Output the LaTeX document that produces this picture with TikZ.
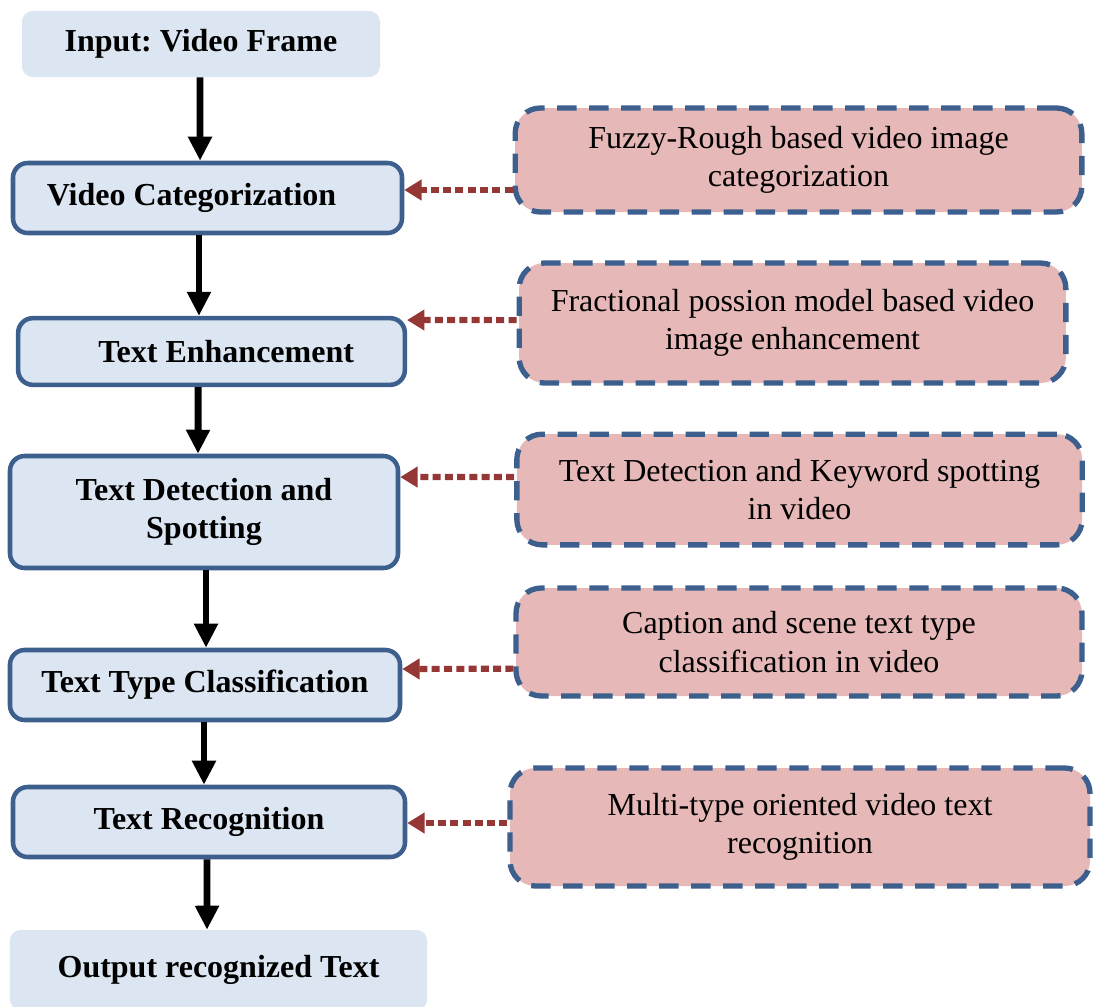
\documentclass[tikz,border=0pt]{standalone}
\usepackage{fontspec}
\setmainfont{Liberation Serif}
\usetikzlibrary{arrows.meta}
\definecolor{lfill}{HTML}{DCE6F2}
\definecolor{lborder}{HTML}{3D5F8E}
\definecolor{rfill}{HTML}{E6B9B8}
\definecolor{darr}{HTML}{953735}
\tikzset{
  lbox/.style={fill=lfill, draw=lborder, line width=3.4pt, rounded corners=11pt,
    align=center, inner sep=0pt, font=\fontsize{24}{29}\selectfont\bfseries\frenchspacing},
  lplain/.style={fill=lfill, draw=none, rounded corners=8pt,
    align=center, inner sep=0pt, font=\fontsize{24}{29}\selectfont\bfseries\frenchspacing},
  rbox/.style={fill=rfill, draw=lborder, line width=4pt, rounded corners=19pt,
    dash pattern=on 14.5pt off 9.5pt, align=center, inner sep=0pt,
    font=\fontsize{24}{29}\selectfont\frenchspacing},
  blk/.style={draw=black, line width=5.2pt, -{Triangle[length=18pt,width=17pt]}},
  dotarr/.style={draw=darr, line width=4.6pt, dash pattern=on 6pt off 3.2pt,
    -{Triangle[length=13pt,width=15pt]}},
}
\begin{document}
\begin{tikzpicture}[x=0.75pt,y=-0.75pt]
\useasboundingbox (0,0) rectangle (1093,1007);
% left column
\node[lplain, minimum width=268.5pt, minimum height=49.5pt] (l1) at (201,44) {Input: Video Frame};
\node[lbox, minimum width=291.75pt, minimum height=52.5pt] (l2) at (207.5,198) {\raisebox{-2pt}{Video Categorization}\hspace*{24pt}};
\node[lbox, minimum width=290pt, minimum height=50pt] (l3) at (211.5,351.5) {\hspace*{22pt}Text Enhancement};
\node[lbox, minimum width=291pt, minimum height=84pt] (l4) at (204,512) {Text Detection and\\Spotting};
\node[lbox, minimum width=292.5pt, minimum height=52.5pt] (l5) at (205,685) {Text Type Classification};
\node[lbox, minimum width=294pt, minimum height=52.5pt] (l6) at (209,822) {Text Recognition};
\node[lplain, minimum width=313pt, minimum height=60pt] (l7) at (218.5,970) {\raisebox{3pt}{Output recognized Text}};
% right column
\node[rbox, minimum width=425pt, minimum height=78pt] (r1) at (798.5,160) {Fuzzy-Rough based video image\\categorization};
\node[rbox, minimum width=410pt, minimum height=90pt] (r2) at (792.5,323) {Fractional possion model based video\\image enhancement};
\node[rbox, minimum width=424pt, minimum height=83pt] (r3) at (799.5,489.5) {Text Detection and Keyword spotting\\in video};
\node[rbox, minimum width=424.5pt, minimum height=81pt] (r4) at (799,642) {Caption and scene text type\\classification in video};
\node[rbox, minimum width=435pt, minimum height=88.5pt] (r5) at (800,827) {Multi-type oriented video text\\recognition};
% black flow arrows
\draw[blk] ([xshift=-0.75pt]l1.south) -- ([xshift=-5.6pt]l2.north);
\draw[blk] ([xshift=-6.4pt]l2.south) -- ([xshift=-9.4pt]l3.north);
\draw[blk] ([xshift=-10pt]l3.south) -- ([xshift=-4.5pt]l4.north);
\draw[blk] ([xshift=1.5pt]l4.south) -- ([xshift=0.75pt]l5.north);
\draw[blk] ([xshift=-0.75pt]l5.south) -- ([xshift=-3.75pt]l6.north);
\draw[blk] ([xshift=-1.5pt]l6.south) -- ([xshift=-8.6pt]l7.north);
% dotted arrows
\draw[dotarr] ([yshift=-22.5pt]r1.west) -- ([yshift=6pt]l2.east);
\draw[dotarr] ([yshift=2.2pt]r2.west) -- ([yshift=23.6pt]l3.east);
\draw[dotarr] ([yshift=9.4pt]r3.west) -- ([yshift=26.2pt]l4.east);
\draw[dotarr] ([yshift=-20pt]r4.west) -- ([yshift=12pt]l5.east);
\draw[dotarr] ([yshift=3pt]r5.west) -- ([yshift=-0.75pt]l6.east);
\end{tikzpicture}
\end{document}
